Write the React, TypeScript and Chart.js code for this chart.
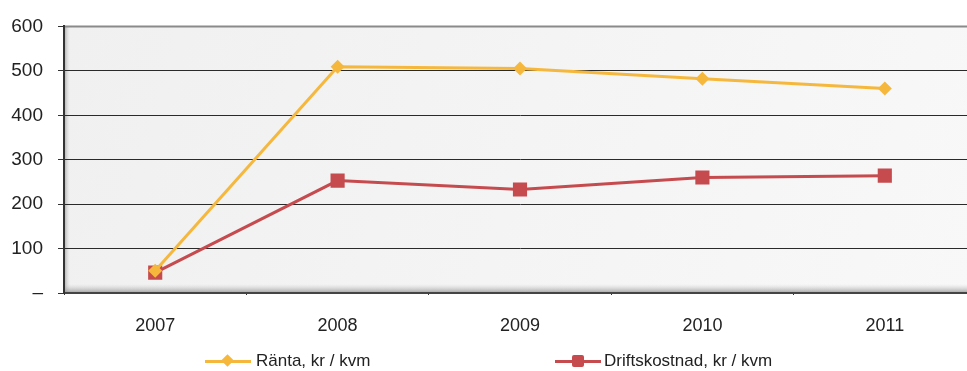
import React, { useEffect, useRef } from "react";
import { Chart, registerables } from "chart.js";

Chart.register(...registerables);

const years = ["2007", "2008", "2009", "2010", "2011"];
const rantaValues = [50, 509, 505, 482, 460];
const driftValues = [46, 253, 233, 260, 264];
const yTickLabels: Record<number, string> = { 0: "–", 100: "100", 200: "200", 300: "300", 400: "400", 500: "500", 600: "600" };
const seriesNames = ["Ränta, kr / kvm", "Driftskostnad, kr / kvm"];

const YELLOW = "#F5B83D";
const RED = "#C64B4E";
const FONT = "'Liberation Sans', Arial, sans-serif";

const bgPlugin = {
  id: "plotBg",
  beforeDraw(chart: any) {
    const { ctx, chartArea: a } = chart;
    ctx.save();
    const g = ctx.createLinearGradient(a.left, a.top, a.right, a.bottom);
    g.addColorStop(0, "#f0f0f0");
    g.addColorStop(1, "#f8f8f8");
    ctx.fillStyle = g;
    ctx.fillRect(a.left, a.top, a.right - a.left, a.bottom - a.top);
    const gl = ctx.createLinearGradient(a.left, 0, a.left + 6, 0);
    gl.addColorStop(0, "rgba(120,120,120,0.6)");
    gl.addColorStop(1, "rgba(200,200,200,0)");
    ctx.fillStyle = gl;
    ctx.fillRect(a.left, a.top, 6, a.bottom - a.top);
    const gb = ctx.createLinearGradient(0, a.bottom - 9, 0, a.bottom);
    gb.addColorStop(0, "rgba(200,200,200,0)");
    gb.addColorStop(1, "rgba(130,130,130,0.75)");
    ctx.fillStyle = gb;
    ctx.fillRect(a.left, a.bottom - 9, a.right - a.left, 9);
    ctx.strokeStyle = "#8a8a8a";
    ctx.lineWidth = 2;
    ctx.beginPath();
    ctx.moveTo(a.left, a.top);
    ctx.lineTo(a.right, a.top);
    ctx.stroke();
    ctx.restore();
  },
};

export default function App() {
  const ref = useRef<HTMLCanvasElement>(null);
  useEffect(() => {
    document.body.style.margin = "0";
    document.body.style.overflow = "hidden";
    const chart = new Chart(ref.current!, {
      type: "line",
      data: {
        labels: years,
        datasets: [
          {
            label: seriesNames[0],
            data: rantaValues,
            borderColor: YELLOW,
            backgroundColor: YELLOW,
            borderWidth: 3,
            pointStyle: "rectRot",
            pointRadius: 7,
            pointBorderWidth: 0,
            tension: 0,
          },
          {
            label: seriesNames[1],
            data: driftValues,
            borderColor: RED,
            backgroundColor: RED,
            borderWidth: 3,
            pointStyle: "rect",
            pointRadius: 10,
            pointBorderWidth: 0,
            tension: 0,
          },
        ],
      },
      options: {
        animation: false,
        responsive: false,
        maintainAspectRatio: false,
        layout: { padding: { top: 23, right: 4, left: 0, bottom: 0 } },
        plugins: { legend: { display: false }, tooltip: { enabled: false } },
        scales: {
          x: {
            offset: true,
            afterFit: (s: any) => { s.height = 78; },
            grid: { offset: true, drawOnChartArea: false, drawTicks: true, tickLength: 2, color: "#333" },
            border: { color: "#444", width: 2 },
            ticks: { color: "#222", font: { family: FONT, size: 18 }, padding: 20 },
          },
          y: {
            min: 0,
            max: 600,
            afterFit: (s: any) => { s.width = 64; },
            ticks: {
              stepSize: 100,
              color: "#222",
              padding: 15,
              font: { family: FONT, size: 19 },
              callback: (v: any) => yTickLabels[v as number] ?? "",
            },
            grid: {
              color: (c: any) => (c.tick && c.tick.value === 600 ? "rgba(0,0,0,0)" : "#2a2a2a"),
              tickColor: "#333",
              tickLength: 6,
              lineWidth: 1,
            },
            border: { color: "#333", width: 2 },
          },
        },
      },
      plugins: [bgPlugin],
    });
    return () => chart.destroy();
  }, []);

  const textStyle: React.CSSProperties = {
    position: "absolute",
    top: 351,
    fontFamily: FONT,
    fontSize: 17,
    color: "#222",
    lineHeight: "20px",
    whiteSpace: "nowrap",
  };

  return (
    <div style={{ position: "relative", width: 967, height: 371, overflow: "hidden", background: "#fff" }}>
      <canvas ref={ref} width={986} height={371} style={{ position: "absolute", left: 0, top: 0, width: 986, height: 371 }} />
      <div style={{ position: "absolute", left: 205, top: 360, width: 46, height: 3, background: YELLOW }} />
      <div style={{ position: "absolute", left: 223, top: 356, width: 9, height: 9, background: YELLOW, transform: "rotate(45deg)" }} />
      <div style={{ ...textStyle, left: 256 }}>{seriesNames[0]}</div>
      <div style={{ position: "absolute", left: 555, top: 360, width: 46, height: 3, background: RED }} />
      <div style={{ position: "absolute", left: 572, top: 355, width: 12, height: 12, background: RED, borderRadius: 2 }} />
      <div style={{ ...textStyle, left: 604 }}>{seriesNames[1]}</div>
    </div>
  );
}
